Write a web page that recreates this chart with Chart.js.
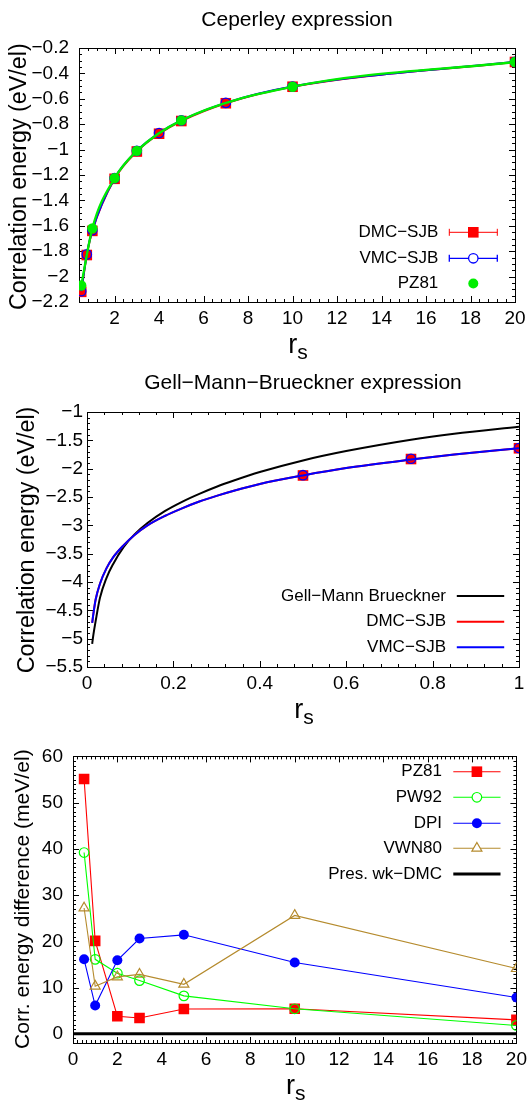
<!DOCTYPE html>
<html><head><meta charset="utf-8">
<script src="https://cdn.jsdelivr.net/npm/chart.js@4.4.1/dist/chart.umd.min.js"></script>
<style>
html,body{margin:0;padding:0;background:#fff;}
body{width:532px;height:1102px;position:relative;overflow:hidden;}
.panel{position:absolute;left:0;width:532px;}
canvas{display:block;}
</style></head><body>
<div class="panel" style="top:0;height:370px"><canvas id="c1" width="532" height="370"></canvas></div>
<div class="panel" style="top:370px;height:365px"><canvas id="c2" width="532" height="365"></canvas></div>
<div class="panel" style="top:735px;height:367px"><canvas id="c3" width="532" height="367"></canvas></div>
<script>
// ---------- Panel 1: Ceperley expression ----------
const rsQMC  = [0.5, 0.75, 1, 2, 3, 4, 5, 7, 10, 20];
const ecDMC  = [-2.12, -1.83, -1.64, -1.23, -1.015, -0.875, -0.775, -0.635, -0.505, -0.31];
const ecVMC  = [-2.115, -1.825, -1.635, -1.225, -1.01, -0.87, -0.77, -0.632, -0.503, -0.309];
const rsPZ81 = [0.5, 1, 2, 3, 5, 10, 20];
const ecPZ81 = [-2.07, -1.62, -1.225, -1.01, -0.77, -0.505, -0.31];
const p1XTicks = [2, 4, 6, 8, 10, 12, 14, 16, 18, 20];
const p1YTicks = [-2.2, -2, -1.8, -1.6, -1.4, -1.2, -1, -0.8, -0.6, -0.4, -0.2];

// ---------- Panel 2: Gell-Mann-Brueckner expression ----------
const rsFit    = [0.012, 0.015, 0.02, 0.03, 0.045, 0.06, 0.085, 0.11, 0.14, 0.18, 0.22, 0.26, 0.3, 0.34, 0.4, 0.5, 0.6, 0.75, 0.85, 1.0];
const ecGMB    = [-5.09, -4.92, -4.69, -4.28, -3.93, -3.69, -3.38, -3.16, -2.96, -2.75, -2.585, -2.445, -2.32, -2.21, -2.06, -1.855, -1.69, -1.49, -1.385, -1.26];
const ecDMCfit = [-4.72, -4.55, -4.31, -4.03, -3.76, -3.57, -3.35, -3.17, -3.0, -2.835, -2.70, -2.58, -2.48, -2.39, -2.27, -2.12, -1.99, -1.84, -1.752, -1.64];
const ecVMCfit = [-4.72, -4.55, -4.31, -4.03, -3.76, -3.57, -3.35, -3.17, -3.0, -2.835, -2.70, -2.58, -2.48, -2.39, -2.27, -2.12, -1.99, -1.84, -1.752, -1.64];
const rsQMC2 = [0.5, 0.75, 1];
const ecDMC2 = [-2.12, -1.83, -1.64];
const ecVMC2 = [-2.115, -1.825, -1.635];
const p2XTicks = [0, 0.2, 0.4, 0.6, 0.8, 1];
const p2YTicks = [-5.5, -5, -4.5, -4, -3.5, -3, -2.5, -2, -1.5, -1];

// ---------- Panel 3: correlation energy differences ----------
const rsDiff = [0.5, 1, 2, 3, 5, 10, 20];
const dPZ81  = [55.1, 20.1, 3.8, 3.4, 5.35, 5.4, 3.0];
const dPW92  = [39.2, 16.1, 13.1, 11.5, 8.2, 5.4, 1.8];
const dDPI   = [16.1, 6.1, 15.9, 20.6, 21.4, 15.4, 7.85];
const dVWN80 = [27.2, 10.3, 12.3, 12.85, 10.7, 25.6, 14.1];
const rsPres = [0, 20];
const dPres  = [0, 0];
const p3XTicks = [0, 2, 4, 6, 8, 10, 12, 14, 16, 18, 20];
const p3YTicks = [0, 10, 20, 30, 40, 50, 60];

// ---------- styling / helpers ----------
const FONT = '"Liberation Sans", Arial, Helvetica, sans-serif';
Chart.defaults.font.family = FONT;
Chart.defaults.color = '#000';
const RED = '#ff0000', BLUE = '#0000ff', GREEN = '#00ee00', BLACK = '#000000', BROWN = '#b58b2e';
const fmt = v => String(v).replace('-', '\u2212');
const pts = (xs, ys) => xs.map((x, i) => ({x: x, y: ys[i]}));

const curve = (xs, ys, color, lw, order) => ({
  data: pts(xs, ys), showLine: true, borderColor: color, backgroundColor: color, borderWidth: lw,
  pointRadius: 0, pointHoverRadius: 0, cubicInterpolationMode: 'monotone', fill: false, order: order
});
const marks = (xs, ys, style, r, stroke, fill, bw, order) => ({
  data: pts(xs, ys), showLine: false, pointStyle: style, pointRadius: r, pointHoverRadius: r,
  pointBorderColor: stroke, pointBackgroundColor: fill, pointBorderWidth: bw,
  borderColor: stroke, backgroundColor: fill, order: order
});
const linePts = (xs, ys, color, style, r, fill, bw, order) => ({
  data: pts(xs, ys), showLine: true, borderColor: color, borderWidth: 1.1, tension: 0,
  pointStyle: style, pointRadius: r, pointHoverRadius: r, pointBorderColor: color,
  pointBackgroundColor: fill, pointBorderWidth: bw, backgroundColor: fill, fill: false, order: order
});

function sampleMarker(ctx, m, x, y) {
  if (!m) return;
  ctx.save();
  ctx.fillStyle = m.fill; ctx.strokeStyle = m.stroke; ctx.lineWidth = m.bw;
  Chart.helpers.drawPoint(ctx, {pointStyle: m.style, rotation: 0, radius: m.r, borderWidth: m.bw}, x, y);
  ctx.restore();
}

function panel(id, P) {
  const cv = document.getElementById(id);
  const W = cv.width, H = cv.height, A = P.area;
  const gnu = {
    id: 'gnu',
    beforeDatasetsDraw(chart) {
      const {ctx, chartArea: a, scales} = chart;
      const sx = scales.x, sy = scales.y;
      const tickSet = (scale, step, majors) => {
        const out = [];
        const n0 = Math.ceil(scale.min / step - 1e-6), n1 = Math.floor(scale.max / step + 1e-6);
        for (let n = n0; n <= n1; n++) {
          const v = n * step;
          out.push({p: scale.getPixelForValue(v), major: majors.some(m => Math.abs(m - v) < step * 0.01)});
        }
        return out;
      };
      ctx.save();
      ctx.strokeStyle = '#000'; ctx.lineWidth = 1;
      ctx.beginPath();
      for (const t of tickSet(sx, P.xMinor, P.xTicks)) {
        const len = t.major ? 6 : 3, p = Math.round(t.p) + 0.5;
        ctx.moveTo(p, a.bottom); ctx.lineTo(p, a.bottom - len);
        ctx.moveTo(p, a.top); ctx.lineTo(p, a.top + len);
      }
      for (const t of tickSet(sy, P.yMinor, P.yTicks)) {
        const len = t.major ? 6 : 3, p = Math.round(t.p) + 0.5;
        ctx.moveTo(a.left, p); ctx.lineTo(a.left + len, p);
        ctx.moveTo(a.right, p); ctx.lineTo(a.right - len, p);
      }
      ctx.stroke();
      ctx.strokeRect(Math.round(a.left) + 0.5, Math.round(a.top) + 0.5, Math.round(a.right - a.left), Math.round(a.bottom - a.top));
      ctx.restore();
    },
    afterDraw(chart) {
      const {ctx, chartArea: a} = chart;
      ctx.save();
      ctx.fillStyle = '#000';
      // y axis title
      ctx.font = P.yTitle.size + 'px ' + FONT;
      ctx.translate(P.yTitle.x, P.yTitle.cy);
      ctx.rotate(-Math.PI / 2);
      ctx.textAlign = 'center'; ctx.textBaseline = 'alphabetic';
      ctx.fillText(P.yTitle.text, 0, 0);
      ctx.setTransform(chart.currentDevicePixelRatio, 0, 0, chart.currentDevicePixelRatio, 0, 0);
      // x axis title r_s
      const cx = (a.left + a.right) / 2 + 1, yb = a.bottom + 50.7;
      ctx.textAlign = 'left';
      ctx.font = '27px ' + FONT; const wr = ctx.measureText('r').width;
      ctx.font = '21px ' + FONT; const ws = ctx.measureText('s').width;
      const x0 = cx - (wr + ws) / 2;
      ctx.font = '27px ' + FONT; ctx.fillText('r', x0, yb);
      ctx.font = '21px ' + FONT; ctx.fillText('s', x0 + wr, yb + 6.7);
      // legend
      const L = P.legend;
      ctx.font = '17px ' + FONT;
      ctx.textBaseline = 'middle'; ctx.textAlign = 'right';
      L.items.forEach((it, i) => {
        const y = L.rows[i];
        ctx.fillStyle = '#000';
        ctx.fillText(it.label, L.textRight, y);
        if (it.line) {
          ctx.strokeStyle = it.color; ctx.lineWidth = it.lw;
          ctx.beginPath(); ctx.moveTo(L.x1, y); ctx.lineTo(L.x2, y); ctx.stroke();
          if (it.err) {
            ctx.beginPath();
            ctx.moveTo(L.x1, y - 3.5); ctx.lineTo(L.x1, y + 3.5);
            ctx.moveTo(L.x2, y - 3.5); ctx.lineTo(L.x2, y + 3.5);
            ctx.stroke();
          }
        }
        sampleMarker(ctx, it.marker, (L.x1 + L.x2) / 2, y);
      });
      ctx.restore();
    }
  };
  return new Chart(cv, {
    type: 'line',
    data: {datasets: P.datasets},
    options: {
      responsive: false, animation: false, events: [],
      layout: {padding: {left: 0, right: W - A.right, top: P.title ? 0 : A.top, bottom: 0}},
      plugins: {
        legend: {display: false}, tooltip: {enabled: false},
        title: P.title ? {display: true, text: P.title, fullSize: false, color: '#000',
          font: {size: 21, weight: 'normal', lineHeight: 1.2},
          padding: {top: P.titlePad, bottom: A.top - P.titlePad - 25.2}} : {display: false}
      },
      scales: {
        x: {type: 'linear', min: P.xMin, max: P.xMax,
          grid: {display: false, drawTicks: false}, border: {display: false},
          ticks: {autoSkip: false, maxRotation: 0, minRotation: 0, padding: P.xPad, color: '#000', font: {size: 19}, callback: v => fmt(v)},
          afterBuildTicks: s => { s.ticks = P.xTicks.map(v => ({value: v})); },
          afterFit: s => { s.height = H - A.bottom; }},
        y: {type: 'linear', min: P.yMin, max: P.yMax,
          grid: {display: false, drawTicks: false}, border: {display: false},
          ticks: {autoSkip: false, padding: P.yPad, color: '#000', font: {size: 19}, callback: v => fmt(v)},
          afterBuildTicks: s => { s.ticks = P.yTicks.map(v => ({value: v})); },
          afterFit: s => { s.width = A.left; }}
      }
    },
    plugins: [gnu]
  });
}

// ---------- Panel 1 ----------
panel('c1', {
  area: {left: 79, right: 515, top: 48, bottom: 302},
  title: 'Ceperley expression', titlePad: 7.4,
  xMin: 0.4, xMax: 20, yMin: -2.2, yMax: -0.2,
  xTicks: p1XTicks, yTicks: p1YTicks, xMinor: 0.4, yMinor: 0.05, xPad: 5, yPad: 10,
  yTitle: {text: 'Correlation energy (eV/el)', size: 23.3, x: 25.6, cy: 176.7},
  legend: {rows: [232.3, 258.3, 283.5], textRight: 438.3, x1: 449.3, x2: 497.3, items: [
    {label: 'DMC\u2212SJB', line: true, err: true, color: RED, lw: 1, marker: {style: 'rect', r: 7.5, fill: RED, stroke: RED, bw: 0}},
    {label: 'VMC\u2212SJB', line: true, err: true, color: BLUE, lw: 1.3, marker: {style: 'circle', r: 4.7, fill: '#fff', stroke: BLUE, bw: 1.3}},
    {label: 'PZ81', line: false, marker: {style: 'circle', r: 5, fill: GREEN, stroke: GREEN, bw: 0}}
  ]},
  datasets: [
    marks(rsQMC, ecDMC, 'rect', 7.5, RED, RED, 0, 6),
    marks(rsQMC, ecVMC, 'circle', 4.7, BLUE, 'rgba(0,0,0,0)', 1.3, 5),
    curve(rsQMC, ecDMC, RED, 2, 4),
    curve(rsQMC, ecVMC, BLUE, 2, 3),
    curve(rsPZ81, ecPZ81, GREEN, 2.3, 2),
    marks(rsPZ81, ecPZ81, 'circle', 5.2, GREEN, GREEN, 0, 1)
  ]
});

// ---------- Panel 2 ----------
panel('c2', {
  area: {left: 87, right: 519, top: 42, bottom: 297},
  title: 'Gell\u2212Mann\u2212Brueckner expression', titlePad: 0.7,
  xMin: 0, xMax: 1, yMin: -5.5, yMax: -1,
  xTicks: p2XTicks, yTicks: p2YTicks, xMinor: 0.04, yMinor: 0.1, xPad: 5, yPad: 4,
  yTitle: {text: 'Correlation energy (eV/el)', size: 23.3, x: 34.1, cy: 170},
  legend: {rows: [226, 251.7, 277.3], textRight: 446, x1: 456.8, x2: 504.2, items: [
    {label: 'Gell\u2212Mann Brueckner', line: true, color: BLACK, lw: 2},
    {label: 'DMC\u2212SJB', line: true, color: RED, lw: 2},
    {label: 'VMC\u2212SJB', line: true, color: BLUE, lw: 2}
  ]},
  datasets: [
    marks(rsQMC2, ecDMC2, 'rect', 7.5, RED, RED, 0, 6),
    marks(rsQMC2, ecVMC2, 'circle', 4.7, BLUE, 'rgba(0,0,0,0)', 1.3, 5),
    curve(rsFit, ecGMB, BLACK, 2, 4),
    curve(rsFit, ecDMCfit, RED, 2, 3),
    curve(rsFit, ecVMCfit, BLUE, 2, 2)
  ]
});

// ---------- Panel 3 ----------
panel('c3', {
  area: {left: 73, right: 519, top: 18, bottom: 308},
  title: null,
  xMin: 0, xMax: 20, yMin: -2, yMax: 60,
  xTicks: p3XTicks, yTicks: p3YTicks, xMinor: 0.2, yMinor: 1, xPad: 5, yPad: 10,
  yTitle: {text: 'Corr. energy difference (meV/el)', size: 21.1, x: 29.4, cy: 164.2},
  legend: {rows: [36.7, 62.3, 88.3, 113.3, 139], textRight: 442, x1: 453.3, x2: 500.5, items: [
    {label: 'PZ81', line: true, color: RED, lw: 1.1, marker: {style: 'rect', r: 7.5, fill: RED, stroke: RED, bw: 0}},
    {label: 'PW92', line: true, color: '#00ff00', lw: 1.1, marker: {style: 'circle', r: 4.8, fill: '#fff', stroke: '#00ff00', bw: 1.2}},
    {label: 'DPI', line: true, color: BLUE, lw: 1.1, marker: {style: 'circle', r: 5, fill: BLUE, stroke: BLUE, bw: 0}},
    {label: 'VWN80', line: true, color: BROWN, lw: 1.1, marker: {style: 'triangle', r: 5.8, fill: '#fff', stroke: BROWN, bw: 1.2}},
    {label: 'Pres. wk\u2212DMC', line: true, color: BLACK, lw: 3}
  ]},
  datasets: [
    linePts(rsDiff, dPZ81, RED, 'rect', 7.5, RED, 0, 5),
    linePts(rsDiff, dPW92, '#00ff00', 'circle', 4.8, 'rgba(0,0,0,0)', 1.2, 4),
    linePts(rsDiff, dDPI, BLUE, 'circle', 5, BLUE, 0, 3),
    linePts(rsDiff, dVWN80, BROWN, 'triangle', 5.8, 'rgba(0,0,0,0)', 1.2, 2),
    {data: pts(rsPres, dPres), showLine: true, borderColor: BLACK, borderWidth: 3, pointRadius: 0, pointHoverRadius: 0, tension: 0, fill: false, order: 1}
  ]
});
</script>
</body></html>
